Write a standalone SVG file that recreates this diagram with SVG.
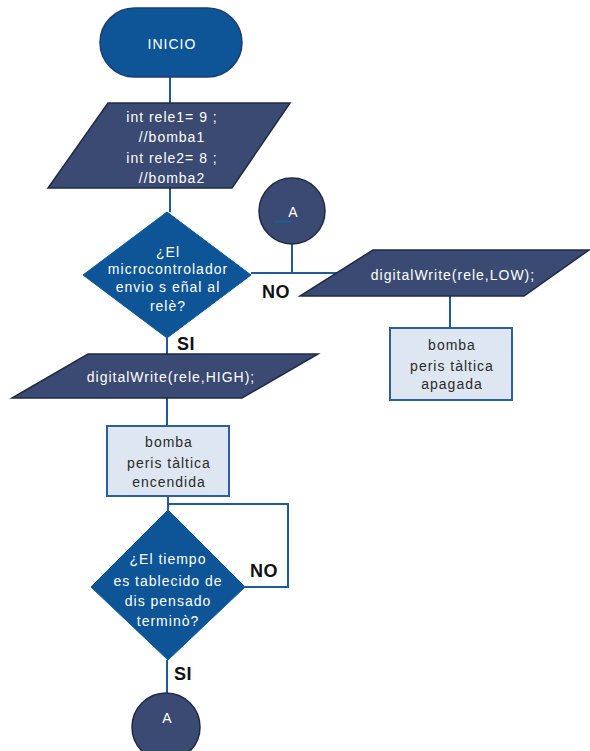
<svg xmlns="http://www.w3.org/2000/svg" width="590" height="751" viewBox="0 0 590 751">
  <style>
    .term { fill: #0d5597; stroke: #1d3f6e; stroke-width: 1.5; }
    .dec { fill: #0d5597; stroke: #0d5597; stroke-width: 1; }
    .io { fill: #3b4a72; stroke: #1f2a45; stroke-width: 1.5; }
    .conn { fill: #3b4a72; stroke: #1f2a45; stroke-width: 1.5; }
    .proc { fill: #dde6f1; stroke: #2b5f9e; stroke-width: 2; }
    .edge { fill: none; stroke: #1f5a9c; stroke-width: 2; }
    text { font-family: "Liberation Sans", Arial, sans-serif; font-size: 14px; letter-spacing: 1px; text-anchor: middle; }
    .w { fill: #ffffff; }
    .d { fill: #2b2b2b; }
    .big { font-size: 14px; letter-spacing: 0; }
    .lbl { font-family: "Liberation Sans", Arial, sans-serif; font-weight: bold; font-size: 18px; letter-spacing: 0.5px; fill: #111111; text-anchor: start; }
  </style>

  <!-- connectors -->
  <g id="connectors">
    <path class="edge" d="M170 77 V103"/>
    <path class="edge" d="M170 188 V212"/>
    <path class="edge" d="M251 273 H337"/>
    <path class="edge" d="M292 244 V273"/>
    <path class="edge" d="M450 296 V328"/>
    <path class="edge" d="M167 338 V354"/>
    <path class="edge" d="M167 398 V426"/>
    <path class="edge" d="M168 496 V510"/>
    <path class="edge" d="M168 504 H288 V587 H245"/>
    <path class="edge" d="M167 660 V693"/>
  </g>

  <!-- branch labels -->
  <g id="labels">
    <text class="lbl" x="262" y="298">NO</text>
    <text class="lbl" x="177" y="350">SI</text>
    <text class="lbl" x="250" y="577">NO</text>
    <text class="lbl" x="174" y="680">SI</text>
  </g>

  <g id="inicio">
    <rect class="term" x="100" y="8" width="142" height="69" rx="34.5"/>
    <text class="w" x="172" y="49">INICIO</text>
  </g>

  <g id="declaraciones">
    <polygon class="io" points="108,103 290,103 232,188 48,188"/>
    <text class="w" x="172" y="122">int rele1= 9 ;</text>
    <text class="w" x="172" y="142">//bomba1</text>
    <text class="w" x="172" y="163">int rele2= 8 ;</text>
    <text class="w" x="172" y="183">//bomba2</text>
  </g>

  <g id="decision-rele">
    <polygon class="dec" points="167,212 251,275 167,338 83,275"/>
    <text class="w" x="168" y="257">¿El</text>
    <text class="w" x="168" y="274">microcontrolador</text>
    <text class="w" x="168" y="292">envio s eñal al</text>
    <text class="w" x="168" y="311">relè?</text>
  </g>

  <g id="conector-a-arriba">
    <circle class="conn" cx="292" cy="211" r="33"/>
    <text class="w big" x="293" y="217">A</text>
    <path class="edge" d="M274 221.5 H292"/>
  </g>

  <g id="write-low">
    <polygon class="io" points="373,250 589,250 524,296 300,296"/>
    <text class="w" x="453" y="280">digitalWrite(rele,LOW);</text>
  </g>

  <g id="bomba-apagada">
    <rect class="proc" x="390" y="328" width="122" height="72"/>
    <text class="d" x="452" y="350">bomba</text>
    <text class="d" x="452" y="371">peris tàltica</text>
    <text class="d" x="452" y="389">apagada</text>
  </g>

  <g id="write-high">
    <polygon class="io" points="88,354 318,354 242,398 12,398"/>
    <text class="w" x="171" y="382">digitalWrite(rele,HIGH);</text>
  </g>

  <g id="bomba-encendida">
    <rect class="proc" x="107" y="426" width="122" height="70"/>
    <text class="d" x="169" y="447">bomba</text>
    <text class="d" x="169" y="468">peris tàltica</text>
    <text class="d" x="169" y="487">encendida</text>
  </g>

  <g id="decision-tiempo">
    <polygon class="dec" points="168,510 245,587 168,660 91,587"/>
    <text class="w" x="168" y="564">¿El tiempo</text>
    <text class="w" x="168" y="586">es tablecido de</text>
    <text class="w" x="168" y="606">dis pensado</text>
    <text class="w" x="168" y="626">terminò?</text>
  </g>

  <g id="conector-a-abajo">
    <circle class="conn" cx="166" cy="727" r="34"/>
    <text class="w big" x="167" y="723">A</text>
  </g>
</svg>
